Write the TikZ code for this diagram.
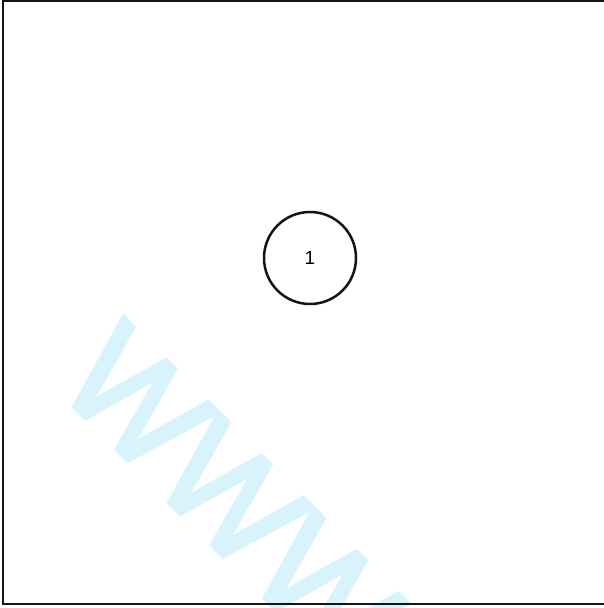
\documentclass[tikz,border=0pt]{standalone}
\usepackage{fontspec}
\setmainfont{Liberation Sans}
\newfontfamily\wmfont[FakeBold=3]{Liberation Sans}
\definecolor{wmark}{RGB}{217,243,252}
\definecolor{inkline}{RGB}{20,20,20}
\tikzset{
  frameline/.style={draw=inkline, line width=2pt},
  statecircle/.style={circle, draw=inkline, line width=2.5pt, minimum size=92pt, inner sep=0pt, font=\fontsize{19}{19}\selectfont},
  watermark/.style={text=wmark, inner sep=0pt, anchor=base west, rotate=-45.2, font=\wmfont\fontsize{143}{143}\selectfont}
}
\begin{document}
\begin{tikzpicture}[x=1pt,y=1pt]
  \useasboundingbox (0,0) rectangle (604,608);
  \clip (0,0) rectangle (604,608);
  \fill[white] (0,0) rectangle (604,608);
  \node[watermark] (wm) at (53.3,222.3) {WWW};
  \coordinate (tl) at (3,606.5);
  \coordinate (tr) at (605,606.5);
  \coordinate (bl) at (3,3.5);
  \coordinate (br) at (605,3.5);
  \draw[frameline] (tr) -- (tl) -- (bl) -- (br);
  \node[statecircle] (s1) at (310,350) {1};
\end{tikzpicture}
\end{document}
